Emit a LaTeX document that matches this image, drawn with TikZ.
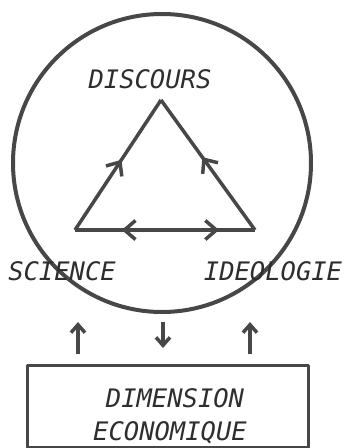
\documentclass[tikz,border=0pt]{standalone}
\usepackage{fontspec}
\setmonofont{DejaVu Sans Mono}
\usetikzlibrary{arrows.meta,positioning,calc,decorations.markings}

\begin{document}
\begin{tikzpicture}[x=1pt,y=-1pt,
  ink/.style={draw=black!72,line width=3.5pt,line join=round},
  lettering/.style={font=\ttfamily\itshape\fontsize{25.5}{33}\selectfont,text=black!82},
  barb/.style={-{Straight Barb[length=8pt,width=14pt]}},
  midarrow/.style={postaction={decorate},decoration={markings,
    mark=at position #1 with {\arrow{Straight Barb[length=11pt,width=19pt]}}}},
  twoway/.style={postaction={decorate},decoration={markings,
    mark=at position 0.26 with {\arrowreversed{Straight Barb[length=11pt,width=19pt]}},
    mark=at position 0.80 with {\arrow{Straight Barb[length=11pt,width=19pt]}}}}]
\useasboundingbox (0,0) rectangle (346,448);

% Ring
\node[ink,circle,line width=4pt,minimum size=298pt,inner sep=0pt] (ring) at (162,163) {};

% Triangle corners
\coordinate (disc) at (161,100);
\coordinate (sci) at (75,230);
\coordinate (ideo) at (255,230);
\draw[ink,midarrow=0.54] (sci) -- (disc);
\draw[ink,midarrow=0.56] (ideo) -- (disc);
\draw[ink,twoway] (sci) -- (ideo);

% Labels
\node[lettering,anchor=base] (discours) at (150,88) {DISCOURS};
\node[lettering,anchor=base] (science) at (62,280) {SCIENCE};
\node[lettering,anchor=base] (ideologie) at (273,280) {IDEOLOGIE};

% Economic base
\node[ink,line width=3pt,minimum width=281pt,minimum height=82pt] (eco) at (167.5,406) {};
\node[lettering,anchor=base] (dimension) at (175,407) {DIMENSION};
\node[lettering,anchor=base] (economique) at (170,440) {ECONOMIQUE};

% Links between ring and base
\coordinate (upleft) at (78,322);
\coordinate (down) at (163,348);
\coordinate (upright) at (250,322);
\draw[ink,barb,shorten <=10pt] (eco.north -| upleft) -- (upleft);
\draw[ink,barb] (down |- 0,322) -- (down);
\draw[ink,barb,shorten <=10pt] (eco.north -| upright) -- (upright);
\end{tikzpicture}
\end{document}
